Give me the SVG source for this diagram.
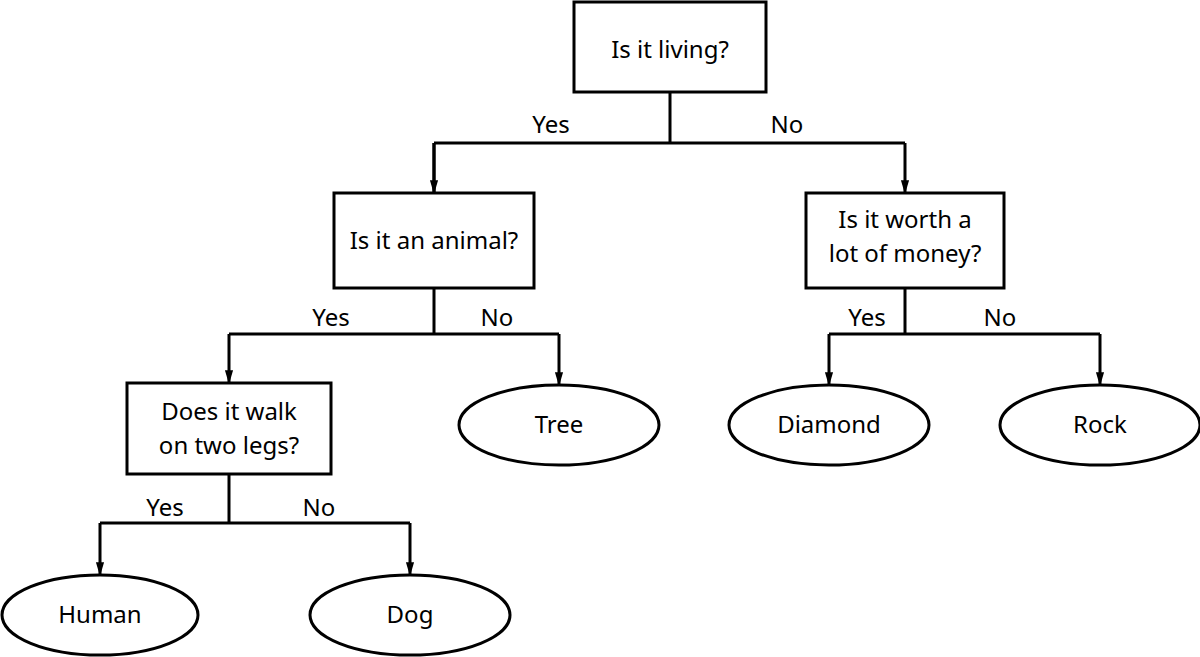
<svg xmlns="http://www.w3.org/2000/svg" width="1200" height="657" viewBox="0 0 1200 657">
<style>
.n{fill:#fff;stroke:#000;stroke-width:3}
.c{fill:none;stroke:#000;stroke-width:3}
text{font-family:"Noto Sans","Open Sans",sans-serif;font-size:24px;text-anchor:middle;fill:#000}
</style>
<defs><marker id="a" markerWidth="12" markerHeight="20" refX="6" refY="18" orient="auto" markerUnits="userSpaceOnUse" viewBox="0 0 12 20"><path d="M0,0 L12,0 L6,20 Z" fill="#000" transform="rotate(-90 6 10) translate(-4 4)"/></marker>
<marker id="b" markerWidth="14" markerHeight="24" refX="22" refY="7" orient="auto" markerUnits="userSpaceOnUse" viewBox="0 0 24 14"><path d="M0,0 L24,7 L0,14 Z" fill="#000"/></marker></defs>
<g id="connectors">
<path class="c" d="M670,92V143M434,143H905M434,143V193M905,143V193" marker-end="url(#b)"/>
<path class="c" d="M434,143V193" marker-end="url(#b)"/>
<path class="c" d="M434,288V334M229,334H559M229,334V383" marker-end="url(#b)"/>
<path class="c" d="M559,334V385" marker-end="url(#b)"/>
<path class="c" d="M905,288V334M829,334H1100M829,334V385" marker-end="url(#b)"/>
<path class="c" d="M1100,334V385" marker-end="url(#b)"/>
<path class="c" d="M229,474V523M100,523H410M100,523V575" marker-end="url(#b)"/>
<path class="c" d="M410,523V575" marker-end="url(#b)"/>
<text x="551" y="133">Yes</text><text x="787" y="133">No</text>
<text x="331" y="326">Yes</text><text x="497" y="326">No</text>
<text x="867" y="326">Yes</text><text x="1000" y="326">No</text>
<text x="165" y="516">Yes</text><text x="319" y="516">No</text>
</g>
<g id="root"><rect class="n" x="574" y="2" width="192" height="90"/><text x="670" y="58">Is it living?</text></g>
<g id="animal"><rect class="n" x="334" y="193" width="200" height="95"/><text x="434" y="249">Is it an animal?</text></g>
<g id="money"><rect class="n" x="806" y="193" width="198" height="95"/><text x="905" y="228">Is it worth a</text><text x="905" y="262">lot of money?</text></g>
<g id="legs"><rect class="n" x="127" y="383" width="204" height="91"/><text x="229" y="420">Does it walk</text><text x="229" y="454">on two legs?</text></g>
<g id="tree"><ellipse class="n" cx="559" cy="425" rx="100" ry="40"/><text x="559" y="433">Tree</text></g>
<g id="diamond"><ellipse class="n" cx="829" cy="425" rx="100" ry="40"/><text x="829" y="433">Diamond</text></g>
<g id="rock"><ellipse class="n" cx="1100" cy="425" rx="100" ry="40"/><text x="1100" y="433">Rock</text></g>
<g id="human"><ellipse class="n" cx="100" cy="615" rx="98" ry="40"/><text x="100" y="623">Human</text></g>
<g id="dog"><ellipse class="n" cx="410" cy="615" rx="100" ry="40"/><text x="410" y="623">Dog</text></g>
</svg>
